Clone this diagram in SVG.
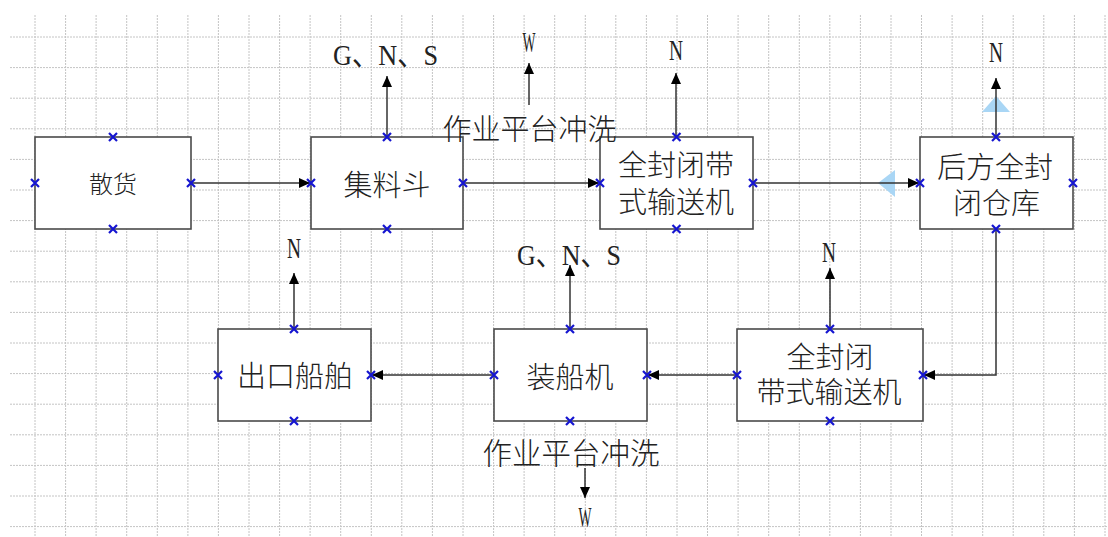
<svg xmlns="http://www.w3.org/2000/svg" width="1108" height="537" viewBox="0 0 1108 537">
<style>
.grid{stroke:#c4c4c4;stroke-width:1;stroke-dasharray:2 1;fill:none}
.box{fill:#fff;stroke:#4a4a4a;stroke-width:1.6}
.cn{font-family:"Noto Sans CJK SC",sans-serif;font-weight:300;fill:#222;text-anchor:middle;dominant-baseline:central}
.lt{font-family:"Liberation Serif","Noto Sans CJK SC",serif;fill:#222;text-anchor:middle;font-size:30px}
.ln{stroke:#333;stroke-width:1.5;fill:none}
.x{stroke:#1515d0;stroke-width:2.2;fill:none}
.hint{fill:#a9d6f5;stroke:none}
</style>
<defs>
<marker id="ah" markerUnits="userSpaceOnUse" markerWidth="12" markerHeight="10" refX="11" refY="5" orient="auto">
<path d="M0,0 L11,5 L0,10 Z" fill="#000"/>
</marker>
</defs>
<rect width="1108" height="537" fill="#fff"/>
<g id="grid">
<path class="grid" d="M35,15V537M65.6,15V537M96.1,15V537M126.7,15V537M157.3,15V537M187.9,15V537M218.4,15V537M249,15V537M279.6,15V537M310.1,15V537M340.7,15V537M371.3,15V537M401.8,15V537M432.4,15V537M463,15V537M493.6,15V537M524.1,15V537M554.7,15V537M585.3,15V537M615.8,15V537M646.4,15V537M677,15V537M707.5,15V537M738.1,15V537M768.7,15V537M799.3,15V537M829.8,15V537M860.4,15V537M891,15V537M921.5,15V537M952.1,15V537M982.7,15V537M1013.2,15V537M1043.8,15V537M1074.4,15V537M1105,15V537"/>
<path class="grid" d="M10,37H1108M10,67.6H1108M10,98.2H1108M10,128.8H1108M10,159.4H1108M10,190H1108M10,220.6H1108M10,251.2H1108M10,281.8H1108M10,312.4H1108M10,343H1108M10,373.6H1108M10,404.2H1108M10,434.8H1108M10,465.4H1108M10,496H1108M10,526.6H1108"/>
</g>
<g id="hints">
<path class="hint" d="M878,183 L895,170 L895,197 Z"/>
<path class="hint" d="M996,96 L982,112 L1010,112 Z"/>
</g>
<g id="connectors">
<path class="ln" marker-end="url(#ah)" d="M191,183 H310"/>
<path class="ln" marker-end="url(#ah)" d="M463,183 H599"/>
<path class="ln" marker-end="url(#ah)" d="M753,183 H919"/>
<path class="ln" marker-end="url(#ah)" d="M996,229 V375 H924"/>
<path class="ln" marker-end="url(#ah)" d="M737,375 H648"/>
<path class="ln" marker-end="url(#ah)" d="M494,375 H372"/>
<path class="ln" marker-end="url(#ah)" d="M387,137 V76"/>
<path class="ln" marker-end="url(#ah)" d="M529,105 V63"/>
<path class="ln" marker-end="url(#ah)" d="M676,137 V73"/>
<path class="ln" marker-end="url(#ah)" d="M996,137 V78"/>
<path class="ln" marker-end="url(#ah)" d="M294,329 V273"/>
<path class="ln" marker-end="url(#ah)" d="M570,329 V265"/>
<path class="ln" marker-end="url(#ah)" d="M830,329 V268"/>
<path class="ln" marker-end="url(#ah)" d="M585,468 V498"/>
</g>
<g id="node-sanhuo">
<rect class="box" x="35" y="137" width="156" height="92"/>
<text class="cn" x="113" y="182" font-size="24">散货</text>
</g>
<g id="node-jiliaodou">
<rect class="box" x="311" y="137" width="152" height="92"/>
<text class="cn" x="387" y="183" font-size="29">集料斗</text>
</g>
<g id="node-conveyor-top">
<rect class="box" x="600" y="137" width="153" height="92"/>
<text class="cn" font-size="29"><tspan x="676" y="162.5">全封闭带</tspan><tspan x="676" y="199.5">式输送机</tspan></text>
</g>
<g id="node-warehouse">
<rect class="box" x="920" y="137" width="153" height="92"/>
<text class="cn" font-size="29"><tspan x="995" y="164.5">后方全封</tspan><tspan x="996.5" y="200.5">闭仓库</tspan></text>
</g>
<g id="node-ship">
<rect class="box" x="218" y="329" width="153" height="92"/>
<text class="cn" x="295" y="373.5" font-size="29">出口船舶</text>
</g>
<g id="node-loader">
<rect class="box" x="494" y="329" width="153" height="92"/>
<text class="cn" x="570" y="374.5" font-size="29">装船机</text>
</g>
<g id="node-conveyor-bottom">
<rect class="box" x="737" y="329" width="186" height="92"/>
<text class="cn" font-size="29"><tspan x="830" y="354.5">全封闭</tspan><tspan x="829" y="390">带式输送机</tspan></text>
</g>
<g id="labels">
<text class="cn" x="529.5" y="126.5" font-size="29">作业平台冲洗</text>
<text class="cn" x="571" y="450.5" font-size="29.5">作业平台冲洗</text>
<text class="lt" x="385.5" y="65" textLength="105" lengthAdjust="spacingAndGlyphs">G、N、S</text>
<text class="lt" x="529" y="52" textLength="13" lengthAdjust="spacingAndGlyphs">W</text>
<text class="lt" x="676" y="60" font-size="32" textLength="14" lengthAdjust="spacingAndGlyphs">N</text>
<text class="lt" x="996" y="62" font-size="32" textLength="14" lengthAdjust="spacingAndGlyphs">N</text>
<text class="lt" x="294" y="258" font-size="32" textLength="14" lengthAdjust="spacingAndGlyphs">N</text>
<text class="lt" x="569" y="265" textLength="104" lengthAdjust="spacingAndGlyphs">G、N、S</text>
<text class="lt" x="829" y="262" font-size="32" textLength="14" lengthAdjust="spacingAndGlyphs">N</text>
<text class="lt" x="585" y="527" textLength="13" lengthAdjust="spacingAndGlyphs">W</text>
</g>
<g id="ports">
<path class="x" d="M109,133l8,8m0,-8l-8,8 M109,225l8,8m0,-8l-8,8 M31,179l8,8m0,-8l-8,8 M187,179l8,8m0,-8l-8,8"/>
<path class="x" d="M383,133l8,8m0,-8l-8,8 M383,225l8,8m0,-8l-8,8 M307,179l8,8m0,-8l-8,8 M459,179l8,8m0,-8l-8,8"/>
<path class="x" d="M672.5,133l8,8m0,-8l-8,8 M672.5,225l8,8m0,-8l-8,8 M596,179l8,8m0,-8l-8,8 M749,179l8,8m0,-8l-8,8"/>
<path class="x" d="M992,133l8,8m0,-8l-8,8 M992,225l8,8m0,-8l-8,8 M916,179l8,8m0,-8l-8,8 M1069,179l8,8m0,-8l-8,8"/>
<path class="x" d="M290,325l8,8m0,-8l-8,8 M290,417l8,8m0,-8l-8,8 M214,371l8,8m0,-8l-8,8 M367,371l8,8m0,-8l-8,8"/>
<path class="x" d="M566,325l8,8m0,-8l-8,8 M566,417l8,8m0,-8l-8,8 M490,371l8,8m0,-8l-8,8 M643,371l8,8m0,-8l-8,8"/>
<path class="x" d="M826,325l8,8m0,-8l-8,8 M826,417l8,8m0,-8l-8,8 M733,371l8,8m0,-8l-8,8 M919,371l8,8m0,-8l-8,8"/>
</g>
</svg>
